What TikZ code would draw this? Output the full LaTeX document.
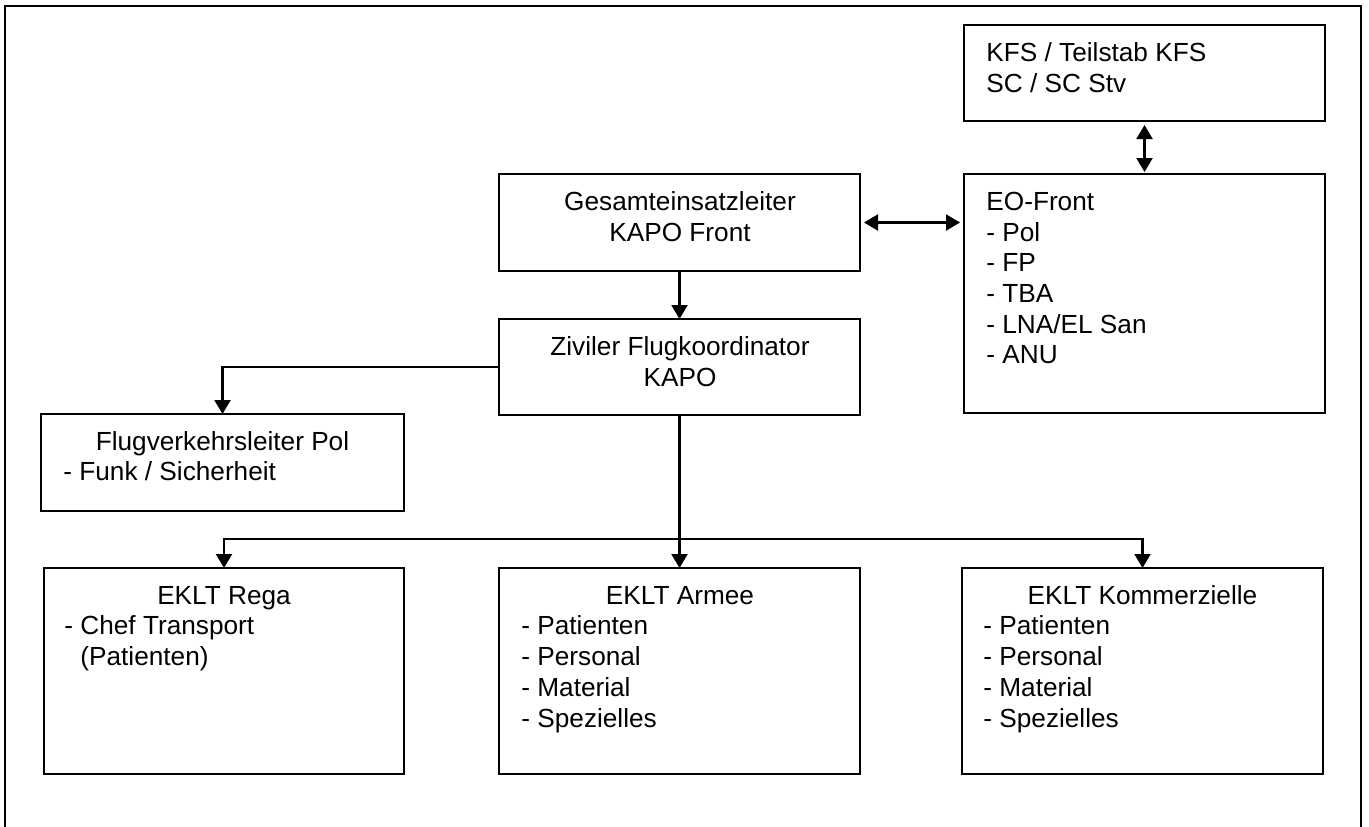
\documentclass[tikz,border=0pt]{standalone}
\usepackage{fontspec}
\setmainfont{Liberation Sans}
\usetikzlibrary{arrows.meta,calc}
\newcommand\fs{\fontsize{13.1pt}{15.35pt}\selectfont}
\newcommand\fst{\rule{0pt}{12pt}}
\newcommand\bx[5]{\node[box, minimum width={(#3-#2)*0.5pt}, minimum height={(#5-#4)*0.5pt}] (#1) at ({(#2+#3)/2},{(#4+#5)/2}) {};}
\begin{document}
\begin{tikzpicture}[x=0.5pt,y=-0.5pt,
  box/.style={draw, line width=1pt, inner sep=0pt, outer sep=0pt},
  ttl/.style={anchor=base, inner sep=0pt, font=\fs},
  lst/.style={anchor=north west, inner sep=0pt, align=left, font=\fs},
  ctr/.style={anchor=north, inner sep=0pt, align=center, font=\fs},
  conn/.style={line width=1.1pt},
  arr/.style={conn, -{Triangle[length=7pt,width=8pt]}},
  darr/.style={conn, {Triangle[length=7pt,width=8pt]}-{Triangle[length=7pt,width=8pt]}}]
\useasboundingbox (0,0) rectangle (1369,826);
% outer frame (open at the bottom)
\draw[line width=1.2pt] (5,830) -- (5,6) -- (1361,6) -- (1361,830);
% boxes
\bx{kfs}{964}{1325}{25}{121}
\bx{eo}{964}{1325}{174}{413}
\bx{g}{499}{860}{174}{271}
\bx{z}{499}{860}{319}{415}
\bx{flug}{41}{404}{414}{511}
\bx{rega}{44}{404}{568}{774}
\bx{arm}{499}{860}{568}{774}
\bx{komm}{962}{1323}{568}{774}
% texts
\node[lst] (tkfs) at (986,37) {\fst KFS / Teilstab KFS\\SC / SC Stv};
\node[lst] (teo) at (986,186) {\fst EO-Front\\- Pol\\- FP\\- TBA\\- LNA/EL San\\- ANU};
\node[ctr] (tg) at (680,186) {\fst Gesamteinsatzleiter\\KAPO Front};
\node[ctr] (tz) at (680,331) {\fst Ziviler Flugkoordinator\\KAPO};
\node[ttl] (tflug) at (222.5,450) {Flugverkehrsleiter Pol};
\node[lst] (lflug) at (63,456.5) {\fst - Funk / Sicherheit};
\node[ttl] (trega) at (224,604) {EKLT Rega};
\node[lst] (lrega) at (64,610.5) {\fst - Chef Transport\\\phantom{- }(Patienten)};
\node[ttl] (tarm) at (680,604) {EKLT Armee};
\node[lst] (larm) at (521,610.5) {\fst - Patienten\\- Personal\\- Material\\- Spezielles};
\node[ttl] (tkomm) at (1142.5,604) {EKLT Kommerzielle};
\node[lst] (lkomm) at (983,610.5) {\fst - Patienten\\- Personal\\- Material\\- Spezielles};
% connectors
\draw[arr] (g) -- (z);
\draw[darr, shorten <=2pt, shorten >=2pt] (g.east) -- (g.east -| eo.west);
\draw[darr, shorten <=2pt, shorten >=1pt] (kfs.south) -- (eo.north);
\draw[arr] (z.west) -| (flug.north);
\coordinate (j) at ($(z.south)+(0,124)$);
\draw[arr] (z.south) -- (arm.north);
\draw[arr] (j) -| (rega.north);
\draw[arr] (j) -| (komm.north);
\end{tikzpicture}
\end{document}
